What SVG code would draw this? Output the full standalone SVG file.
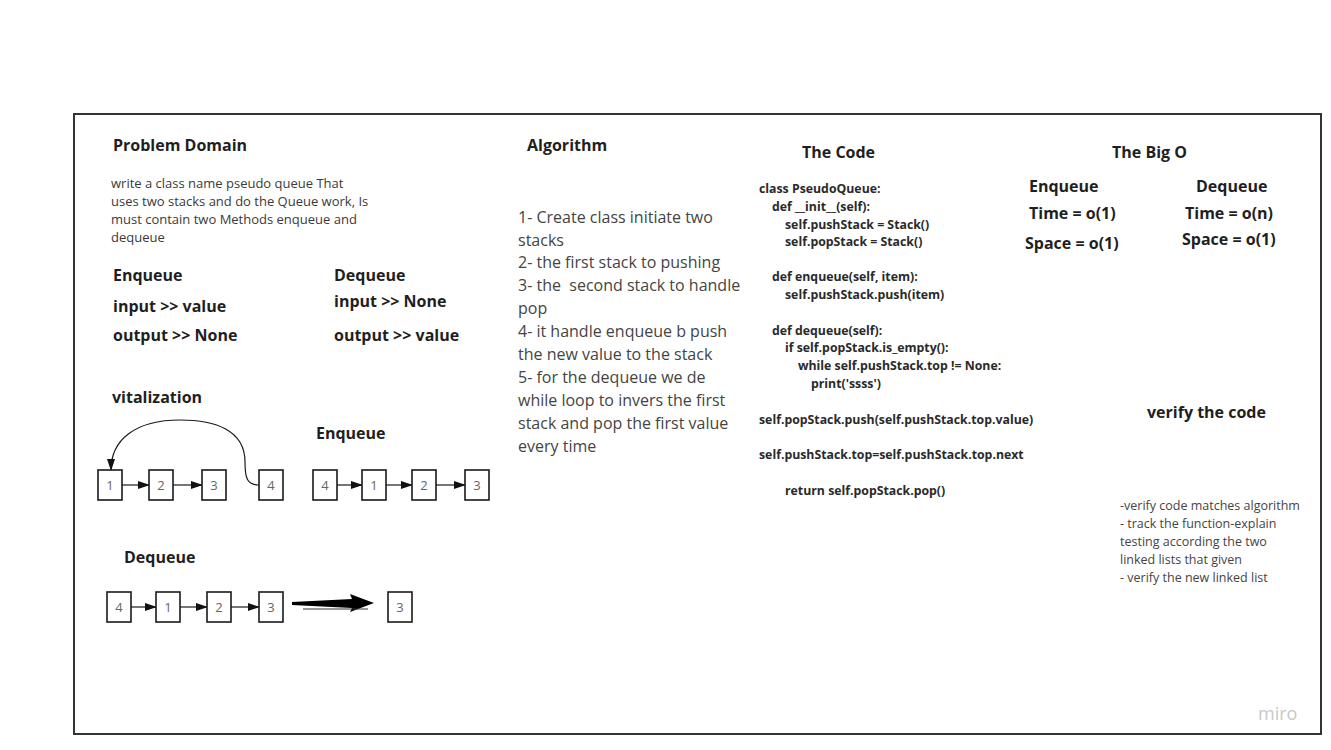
<svg xmlns="http://www.w3.org/2000/svg" width="1331" height="750" viewBox="0 0 1331 750">
<style>
text{font-family:"Open Sans","Noto Sans","Liberation Sans",sans-serif;}
.h{font-weight:bold;font-size:16px;fill:#1f1f1f;}
.hb{font-weight:bold;font-size:16px;fill:#1f1f1f;}
.p{font-size:13px;fill:#3a3a3a;}
.alg{font-size:16px;fill:#444;}
.code{font-weight:bold;font-size:12.3px;fill:#2a2a2a;}
.v{font-size:12.5px;fill:#444;}
.box{fill:#fff;stroke:#1a1a1a;stroke-width:1.6;}
.num{font-size:13px;fill:#666;text-anchor:middle;}
.ln{stroke:#1a1a1a;stroke-width:1.2;fill:none;}
</style>
<defs>
<marker id="ah" markerWidth="12" markerHeight="8" refX="11" refY="4" orient="auto" markerUnits="userSpaceOnUse">
<path d="M0,0 L12,4 L0,8 Z" fill="#111"/>
</marker>
</defs>
<rect width="1331" height="750" fill="#fff"/>
<rect x="74" y="114" width="1247" height="620" fill="#fff" stroke="#333" stroke-width="2"/>

<g id="problem-domain">
<text class="h" x="113" y="151">Problem Domain</text>
<text class="p" x="111" y="188">write a class name pseudo queue That</text>
<text class="p" x="111" y="206">uses two stacks and do the Queue work, Is</text>
<text class="p" x="111" y="224">must contain two Methods enqueue and</text>
<text class="p" x="111" y="242">dequeue</text>
<text class="hb" x="113" y="281">Enqueue</text>
<text class="hb" x="113" y="312">input &gt;&gt; value</text>
<text class="hb" x="113" y="341">output &gt;&gt; None</text>
<text class="hb" x="334" y="281">Dequeue</text>
<text class="hb" x="334" y="307">input &gt;&gt; None</text>
<text class="hb" x="334" y="341">output &gt;&gt; value</text>
</g>

<g id="algorithm">
<text class="h" x="527" y="151">Algorithm</text>
<text class="alg" x="518" y="223">1- Create class initiate two</text>
<text class="alg" x="518" y="246">stacks</text>
<text class="alg" x="518" y="268">2- the first stack to pushing</text>
<text class="alg" x="518" y="291" xml:space="preserve">3- the  second stack to handle</text>
<text class="alg" x="518" y="314">pop</text>
<text class="alg" x="518" y="337">4- it handle enqueue b push</text>
<text class="alg" x="518" y="360">the new value to the stack</text>
<text class="alg" x="518" y="383">5- for the dequeue we de</text>
<text class="alg" x="518" y="406">while loop to invers the first</text>
<text class="alg" x="518" y="429">stack and pop the first value</text>
<text class="alg" x="518" y="452">every time</text>
</g>

<g id="the-code">
<text class="h" x="802" y="158">The Code</text>
<text class="code" x="759" y="193">class PseudoQueue:</text>
<text class="code" x="772" y="211">def __init__(self):</text>
<text class="code" x="785" y="229">self.pushStack = Stack()</text>
<text class="code" x="785" y="246">self.popStack = Stack()</text>
<text class="code" x="772" y="281">def enqueue(self, item):</text>
<text class="code" x="785" y="299">self.pushStack.push(item)</text>
<text class="code" x="772" y="335">def dequeue(self):</text>
<text class="code" x="785" y="352">if self.popStack.is_empty():</text>
<text class="code" x="798" y="370">while self.pushStack.top != None:</text>
<text class="code" x="811" y="388">print('ssss')</text>
<text class="code" x="759" y="424">self.popStack.push(self.pushStack.top.value)</text>
<text class="code" x="759" y="459">self.pushStack.top=self.pushStack.top.next</text>
<text class="code" x="785" y="495">return self.popStack.pop()</text>
</g>

<g id="big-o">
<text class="h" x="1112" y="158">The Big O</text>
<text class="hb" x="1029" y="192">Enqueue</text>
<text class="hb" x="1029" y="219">Time = o(1)</text>
<text class="hb" x="1025" y="249">Space = o(1)</text>
<text class="hb" x="1196" y="192">Dequeue</text>
<text class="hb" x="1185" y="219">Time = o(n)</text>
<text class="hb" x="1182" y="245">Space = o(1)</text>
</g>

<g id="verify">
<text class="h" x="1147" y="418">verify the code</text>
<text class="v" x="1120" y="510">-verify code matches algorithm</text>
<text class="v" x="1120" y="528">- track the function-explain</text>
<text class="v" x="1120" y="546">testing according the two</text>
<text class="v" x="1120" y="564">linked lists that given</text>
<text class="v" x="1120" y="582">- verify the new linked list</text>
</g>

<g id="labels">
<text class="h" x="112" y="403">vitalization</text>
<text class="h" x="316" y="439">Enqueue</text>
<text class="h" x="124" y="563">Dequeue</text>
</g>

<g id="connectors">
<path class="ln" d="M122,485 H149" marker-end="url(#ah)"/>
<path class="ln" d="M173,485 H202" marker-end="url(#ah)"/>
<path class="ln" d="M259,485 C247,485 245,478 245,462 C245,430 215,420 180,420 C135,420 111,440 111,470" marker-end="url(#ah)"/>
<path class="ln" d="M337,485 H362" marker-end="url(#ah)"/>
<path class="ln" d="M386,485 H412" marker-end="url(#ah)"/>
<path class="ln" d="M436,485 H465" marker-end="url(#ah)"/>
<path class="ln" d="M131,607 H156" marker-end="url(#ah)"/>
<path class="ln" d="M180,607 H207" marker-end="url(#ah)"/>
<path class="ln" d="M231,607 H259" marker-end="url(#ah)"/>
<polygon points="292,602 352,599 350,594 374,603 350,612 352,608 292,605" fill="#000"/>
<path d="M303,609 H368" stroke="#333" stroke-width="1" fill="none"/>
</g>

<g id="vis-1"><rect class="box" x="98" y="470" width="24" height="30"/><text class="num" x="110" y="490">1</text></g>
<g id="vis-2"><rect class="box" x="149" y="470" width="24" height="30"/><text class="num" x="161" y="490">2</text></g>
<g id="vis-3"><rect class="box" x="202" y="470" width="24" height="30"/><text class="num" x="214" y="490">3</text></g>
<g id="vis-4"><rect class="box" x="259" y="470" width="24" height="30"/><text class="num" x="271" y="490">4</text></g>

<g id="enq-4"><rect class="box" x="313" y="470" width="24" height="30"/><text class="num" x="325" y="490">4</text></g>
<g id="enq-1"><rect class="box" x="362" y="470" width="24" height="30"/><text class="num" x="374" y="490">1</text></g>
<g id="enq-2"><rect class="box" x="412" y="470" width="24" height="30"/><text class="num" x="424" y="490">2</text></g>
<g id="enq-3"><rect class="box" x="465" y="470" width="24" height="30"/><text class="num" x="477" y="490">3</text></g>

<g id="deq-4"><rect class="box" x="107" y="592" width="24" height="30"/><text class="num" x="119" y="612">4</text></g>
<g id="deq-1"><rect class="box" x="156" y="592" width="24" height="30"/><text class="num" x="168" y="612">1</text></g>
<g id="deq-2"><rect class="box" x="207" y="592" width="24" height="30"/><text class="num" x="219" y="612">2</text></g>
<g id="deq-3"><rect class="box" x="259" y="592" width="24" height="30"/><text class="num" x="271" y="612">3</text></g>
<g id="deq-out"><rect class="box" x="388" y="592" width="24" height="30"/><text class="num" x="400" y="612">3</text></g>

<text x="1258" y="720" font-size="18" fill="#c8c8c8">miro</text>
</svg>
